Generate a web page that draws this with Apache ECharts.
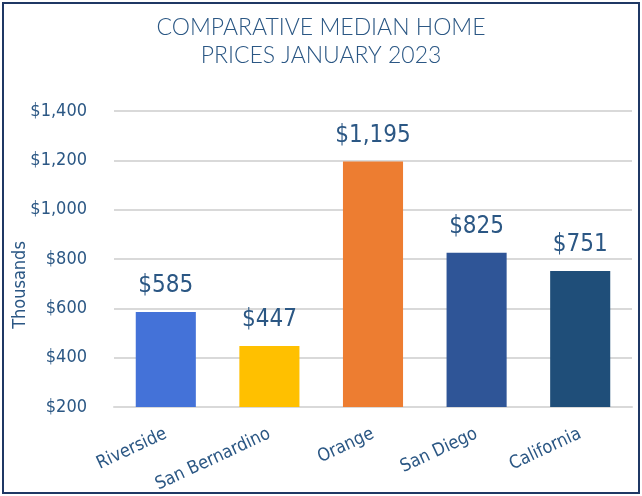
<!DOCTYPE html>
<html><head><meta charset="utf-8">
<script src="https://cdn.jsdelivr.net/npm/echarts@6/dist/echarts.min.js"></script>
<style>
html,body{margin:0;padding:0;background:#fff;}
#frame{position:absolute;left:2px;top:2px;width:634px;height:488px;border:2px solid #1F3864;}
#c{position:absolute;left:0;top:0;width:642px;height:496px;}
</style></head>
<body>
<div id="frame"></div>
<div id="c"></div>
<script>
const categories = ["Riverside", "San Bernardino", "Orange", "San Diego", "California"];
const values = [585, 447, 1195, 825, 751];
const barColors = ["#4472D8", "#FFC000", "#ED7D31", "#2F5597", "#1F4E79"];
const yTicks = [200, 400, 600, 800, 1000, 1200, 1400];

const COND = '"Liberation Sans Narrow","DejaVu Sans Condensed","Roboto Condensed","Noto Sans",sans-serif';
const textColor = "#2B5784";
const chart = echarts.init(document.getElementById('c'), null, {renderer:'canvas'});
const fmt = v => '$' + v.toLocaleString('en-US');
chart.setOption({
  animation:false,
  backgroundColor:'transparent',
  title:{
    text:'COMPARATIVE MEDIAN HOME\nPRICES JANUARY 2023',
    left:'center', top:9,
    textStyle:{fontFamily:'Lato, "Open Sans", sans-serif', fontWeight:300, fontSize:23, lineHeight:28, color:textColor}
  },
  graphic:[{
    type:'text', x:20, y:285, rotation:Math.PI/2,
    style:{text:'Thousands', font:'18px ' + COND, fill:textColor, align:'center', verticalAlign:'middle'}
  }],
  grid:{left:114, right:10, top:111, bottom:89, outerBoundsMode:'none', containLabel:false},
  xAxis:{
    type:'category', data:categories,
    axisLine:{lineStyle:{color:'#D9D9D9', width:2}},
    axisTick:{show:false},
    axisLabel:{rotate:25, margin:26, fontFamily:COND, fontSize:18, color:textColor, interval:0}
  },
  yAxis:{
    type:'value', min:yTicks[0], max:yTicks[yTicks.length-1], interval:200,
    axisLine:{show:false}, axisTick:{show:false},
    axisLabel:{formatter:fmt, fontFamily:COND, fontSize:18, color:textColor, margin:27},
    splitLine:{lineStyle:{color:'#D9D9D9', width:2}}
  },
  series:[{
    type:'bar', barWidth:'58%',
    data: values.map((v,i)=>({value:v, itemStyle:{color:barColors[i]}})),
    label:{show:true, position:'top', distance:14, formatter:p=>fmt(p.value), fontFamily:COND, fontSize:24, color:textColor}
  }]
});
</script>
</body></html>
